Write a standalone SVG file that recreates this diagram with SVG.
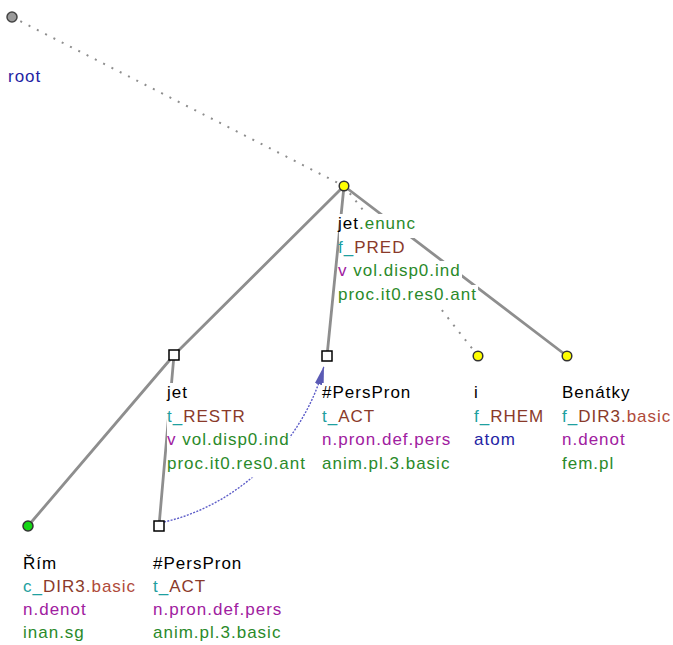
<svg xmlns="http://www.w3.org/2000/svg" width="673" height="645" viewBox="0 0 673 645">
<style>
text{font-family:"Liberation Sans",Arial,sans-serif;font-size:17px;letter-spacing:1px}
.bg{fill:#fff}
.k{fill:#000}
.tl{fill:#1fa0a0}
.br{fill:#8a3a2a}
.bs{fill:#b04a3a}
.pu{fill:#a020a0}
.gr{fill:#2a8a2a}
.bl{fill:#2424a4}
.edge{stroke:#8e8e8e;stroke-width:2.8;fill:none;stroke-linecap:round}
.dot{stroke:#8e8e8e;stroke-width:2;fill:none;stroke-dasharray:2 7.3}
.cor{stroke:#5c5cc8;stroke-width:1.4;fill:none;stroke-dasharray:2 1.4}
.yel{fill:#ffff00;stroke:#333;stroke-width:1.5}
.sq{fill:#fff;stroke:#000;stroke-width:1.5}
</style>
<defs>
<marker id="ah" markerUnits="userSpaceOnUse" markerWidth="20" markerHeight="10" refX="19" refY="5" orient="auto">
<path d="M0,0.5 L19,5 L0,9.5 Z" fill="#5a5ab4"/>
</marker>
</defs>
<g id="connectors">
<line class="dot" x1="12" y1="17" x2="344" y2="186"/>
<line class="edge" x1="344" y1="186" x2="174" y2="355"/>
<line class="edge" x1="344" y1="186" x2="327" y2="356"/>
<line class="dot" x1="344" y1="186" x2="478" y2="356"/>
<line class="edge" x1="344" y1="186" x2="567" y2="356"/>
<line class="edge" x1="174" y1="355" x2="28" y2="526"/>
<line class="edge" x1="174" y1="355" x2="159" y2="526"/>
<path class="cor" d="M164,522 C240,505 305,440 324,366" marker-end="url(#ah)"/>
</g>
<g id="n-root">
<circle cx="12" cy="17" r="5" fill="#9a9a9a" stroke="#444" stroke-width="1.5"/>
<text x="8" y="82" class="bl">root</text>
</g>
<g id="n-jet-enunc">
<rect class="bg" x="339" y="214" width="78" height="24"/>
<rect class="bg" x="339" y="238" width="68" height="24"/>
<rect class="bg" x="339" y="261" width="123" height="24"/>
<rect class="bg" x="339" y="285" width="139" height="24"/>
<circle class="yel" cx="344" cy="186" r="4.8"/>
<text x="338" y="229"><tspan class="k">jet</tspan><tspan class="gr">.enunc</tspan></text>
<text x="338" y="252.7"><tspan class="tl">f_</tspan><tspan class="br">PRED</tspan></text>
<text x="338" y="276.3"><tspan class="pu">v</tspan><tspan class="gr"> vol.disp0.ind</tspan></text>
<text x="338" y="300" class="gr">proc.it0.res0.ant</text>
</g>
<g id="n-jet-restr">
<rect class="bg" x="167" y="383" width="21" height="24"/>
<rect class="bg" x="167" y="406.5" width="79" height="24"/>
<rect class="bg" x="167" y="430" width="123" height="24"/>
<rect class="bg" x="167" y="453.5" width="139" height="24"/>
<rect class="sq" x="169" y="350" width="10" height="10"/>
<text x="167" y="398" class="k">jet</text>
<text x="167" y="421.5"><tspan class="tl">t_</tspan><tspan class="br">RESTR</tspan></text>
<text x="167" y="445"><tspan class="pu">v</tspan><tspan class="gr"> vol.disp0.ind</tspan></text>
<text x="167" y="468.5" class="gr">proc.it0.res0.ant</text>
</g>
<g id="n-perspron-1">
<rect class="bg" x="322" y="383" width="90" height="24"/>
<rect class="bg" x="322" y="406.5" width="54" height="24"/>
<rect class="bg" x="322" y="430" width="130" height="24"/>
<rect class="bg" x="322" y="453.5" width="129" height="24"/>
<rect class="sq" x="322" y="351" width="10" height="10"/>
<text x="322" y="398" class="k">#PersPron</text>
<text x="322" y="421.5"><tspan class="tl">t_</tspan><tspan class="br">ACT</tspan></text>
<text x="322" y="445" class="pu">n.pron.def.pers</text>
<text x="322" y="468.5" class="gr">anim.pl.3.basic</text>
</g>
<g id="n-i">
<rect class="bg" x="474" y="383" width="5" height="24"/>
<rect class="bg" x="474" y="406.5" width="71" height="24"/>
<rect class="bg" x="474" y="430" width="42" height="24"/>
<circle class="yel" cx="478" cy="356" r="4.8"/>
<text x="474" y="398" class="k">i</text>
<text x="474" y="421.5"><tspan class="tl">f_</tspan><tspan class="br">RHEM</tspan></text>
<text x="474" y="445" class="bl">atom</text>
</g>
<g id="n-benatky">
<rect class="bg" x="562" y="383" width="69" height="24"/>
<rect class="bg" x="562" y="406.5" width="110" height="24"/>
<rect class="bg" x="562" y="430" width="64" height="24"/>
<rect class="bg" x="562" y="453.5" width="53" height="24"/>
<circle class="yel" cx="567" cy="356" r="4.8"/>
<text x="562" y="398" class="k">Benátky</text>
<text x="562" y="421.5"><tspan class="tl">f_</tspan><tspan class="br">DIR3</tspan><tspan class="bs">.basic</tspan></text>
<text x="562" y="445" class="pu">n.denot</text>
<text x="562" y="468.5" class="gr">fem.pl</text>
</g>
<g id="n-rim">
<circle cx="28" cy="526" r="5" fill="#14d614" stroke="#333" stroke-width="1.5"/>
<text x="23" y="569" class="k">Řím</text>
<text x="23" y="592"><tspan class="tl">c_</tspan><tspan class="br">DIR3</tspan><tspan class="bs">.basic</tspan></text>
<text x="23" y="615" class="pu">n.denot</text>
<text x="23" y="638" class="gr">inan.sg</text>
</g>
<g id="n-perspron-2">
<rect class="sq" x="154" y="521" width="10" height="10"/>
<text x="153" y="569" class="k">#PersPron</text>
<text x="153" y="592"><tspan class="tl">t_</tspan><tspan class="br">ACT</tspan></text>
<text x="153" y="615" class="pu">n.pron.def.pers</text>
<text x="153" y="638" class="gr">anim.pl.3.basic</text>
</g>
</svg>
